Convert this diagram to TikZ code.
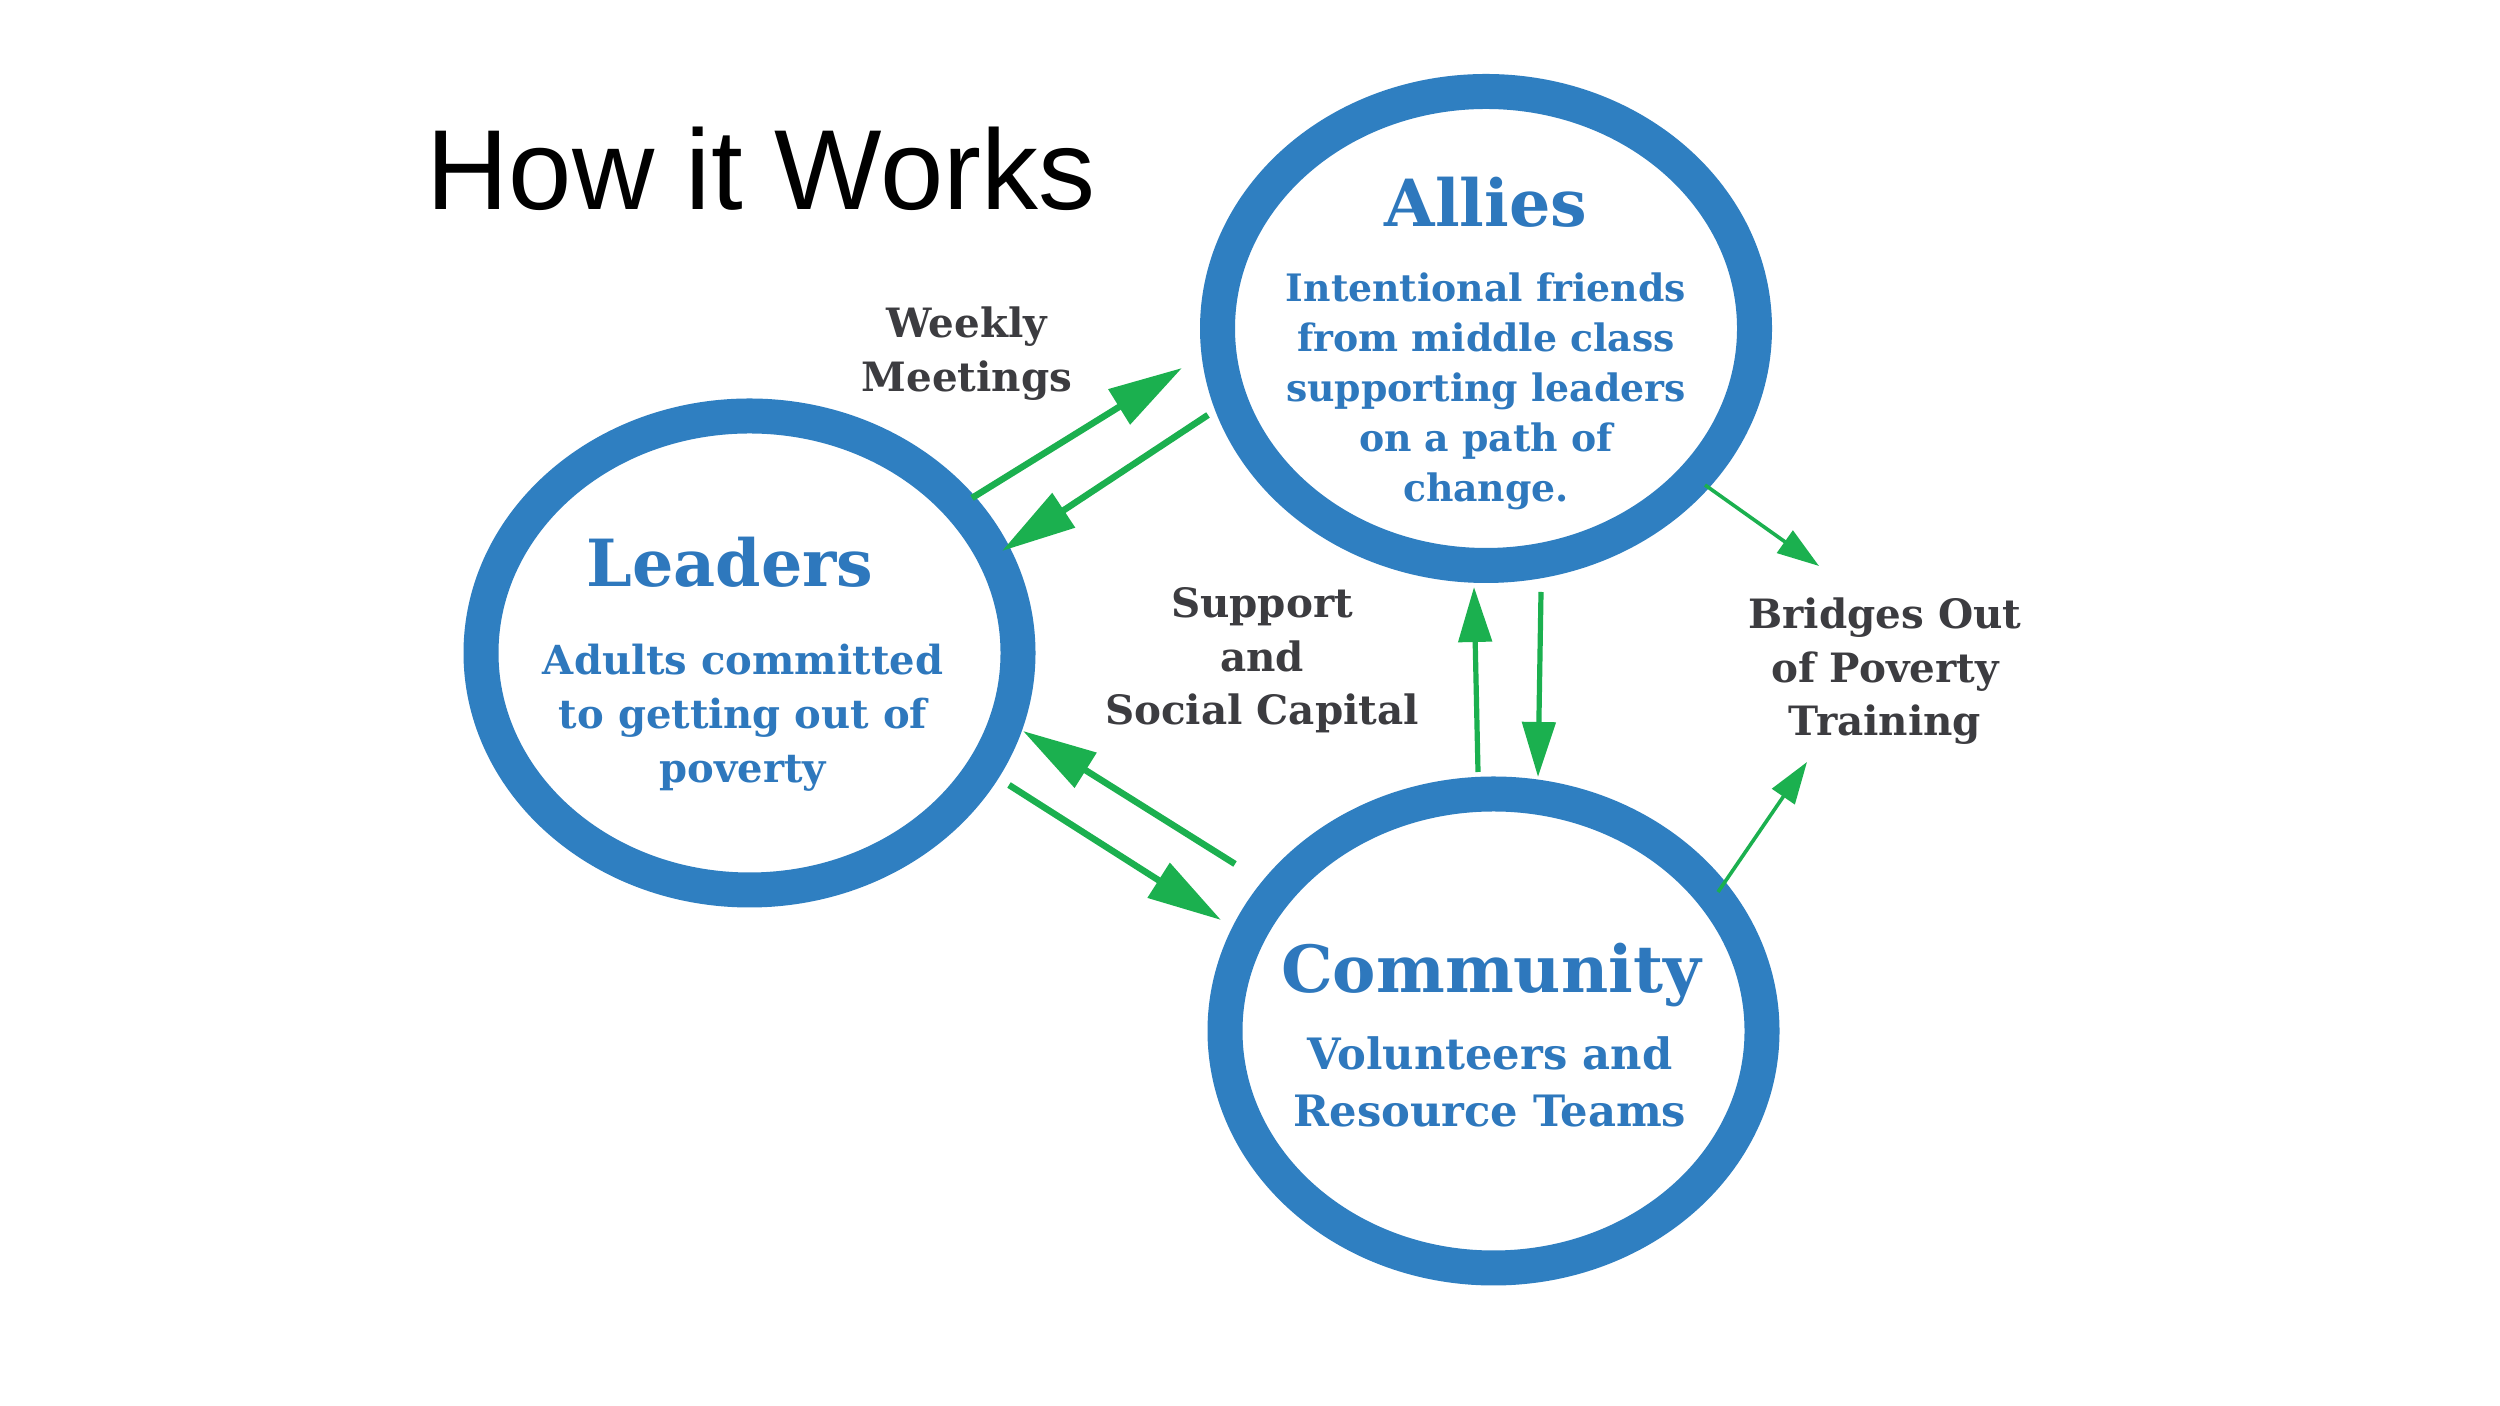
\documentclass[tikz,border=0pt]{standalone}
\usepackage{fontspec}
\usetikzlibrary{arrows.meta,shapes.geometric}
\newfontfamily\dvserif{DejaVu Serif}
\newfontfamily\arialfont{Liberation Sans}
\definecolor{ringblue}{HTML}{2F7FC1}
\definecolor{txtblue}{HTML}{2E78BD}
\definecolor{arrgreen}{HTML}{1BB04F}
\definecolor{lblgray}{HTML}{3C3C40}
\begin{document}
\begin{tikzpicture}[
  ring/.style={ellipse, draw=ringblue, line width=0.35cm, minimum width=5.37cm, minimum height=4.74cm, inner sep=0pt},
  headtxt/.style={font=\dvserif\bfseries\fontsize{18.5}{22}\selectfont, text=txtblue, anchor=base, inner sep=0pt},
  bluetxt/.style={text=txtblue, align=center, anchor=base, inner sep=0pt},
  graytxt/.style={font=\dvserif\bfseries\fontsize{11.5}{15.36}\selectfont, text=lblgray, align=center, anchor=base, inner sep=0pt},
  bigarrow/.style={draw=arrgreen, line width=0.065cm, -{Triangle[length=0.74cm,width=0.40cm]}},
  midarrow/.style={draw=arrgreen, line width=0.052cm, -{Triangle[length=0.55cm,width=0.33cm]}},
  thinarrow/.style={draw=arrgreen, line width=0.036cm, -{Triangle[length=0.42cm,width=0.27cm]}}
]
\useasboundingbox[fill=white] (0,0) rectangle (25,14.06);

% title
\node[font=\arialfont\fontsize{32.4}{38}\selectfont, anchor=base west, inner sep=0pt] (title) at (4.26,11.96) {How it Works};

% rings
\node[ring] (allies) at (14.86,10.775) {};
\node[ring] (leaders) at (7.495,7.53) {};
\node[ring] (community) at (14.935,3.75) {};

% ring texts (multi-line blocks are anchored at the baseline of their last line)
\node[headtxt] (alliesh) at (14.86,11.79) {Allies};
\node[bluetxt, font=\dvserif\bfseries\fontsize{10.75}{14.23}\selectfont] (alliest) at (14.86,9.04)
  {Intentional friends\\from middle class\\supporting leaders\\on a path of\\change.};
\node[headtxt] (leadersh) at (7.30,8.19) {Leaders};
\node[bluetxt, font=\dvserif\bfseries\fontsize{11.4}{15.5}\selectfont] (leaderst) at (7.43,6.23)
  {Adults committed\\to getting out of\\poverty};
\node[headtxt] (communityh) at (14.91,4.13) {Community};
\node[bluetxt, font=\dvserif\bfseries\fontsize{12.3}{16.5}\selectfont] (communityt) at (14.90,2.79)
  {Volunteers and\\Resource Teams};

% labels
\node[graytxt] (weekly) at (9.67,10.14) {Weekly\\Meetings};
\node[graytxt] (support) at (12.62,6.81) {Support\\and\\Social Capital};
\node[graytxt] (bridges) at (18.85,6.70) {Bridges Out\\of Poverty\\Training};

% arrow end points
\coordinate (la1) at (9.72,9.08);   \coordinate (al1) at (11.82,10.38);
\coordinate (al2) at (12.08,9.91);  \coordinate (la2) at (10.02,8.55);
\coordinate (cl1) at (12.35,5.42);  \coordinate (lc1) at (10.23,6.75);
\coordinate (lc2) at (10.09,6.21);  \coordinate (cl2) at (12.21,4.86);
\coordinate (ca1) at (14.78,6.34);  \coordinate (ac1) at (14.74,8.19);
\coordinate (ac2) at (15.41,8.14);  \coordinate (ca2) at (15.38,6.29);
\coordinate (ab1) at (17.05,9.21);  \coordinate (ba1) at (18.19,8.40);
\coordinate (cb1) at (17.18,5.14);  \coordinate (bc1) at (18.07,6.44);

% connectors
\draw[bigarrow] (la1) -- (al1);
\draw[bigarrow] (al2) -- (la2);
\draw[bigarrow] (cl1) -- (lc1);
\draw[bigarrow] (lc2) -- (cl2);
\draw[midarrow] (ca1) -- (ac1);
\draw[midarrow] (ac2) -- (ca2);
\draw[thinarrow] (ab1) -- (ba1);
\draw[thinarrow] (cb1) -- (bc1);
\end{tikzpicture}
\end{document}
